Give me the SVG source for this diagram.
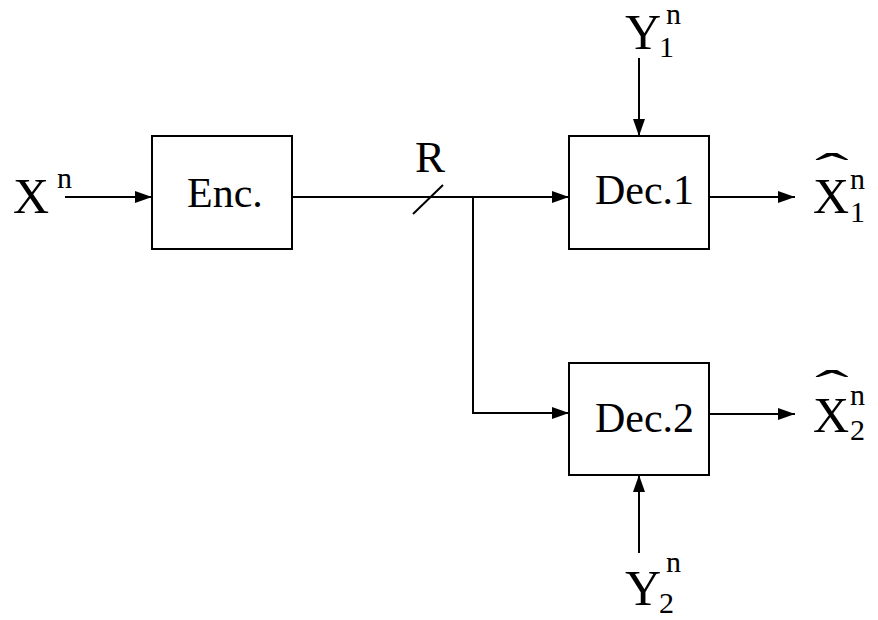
<svg xmlns="http://www.w3.org/2000/svg" width="878" height="620" viewBox="0 0 878 620">
<style>
.box{fill:#fff;stroke:#000;stroke-width:2}
.ln{fill:none;stroke:#000;stroke-width:2}
text{font-family:"Liberation Serif","Times New Roman",serif;fill:#000}
.big{font-size:50px}
.lab{font-size:42px}
.sm{font-size:30px}
.hat{font-size:46px}
</style>
<defs>
<marker id="ah" markerUnits="userSpaceOnUse" markerWidth="17" markerHeight="12" refX="17" refY="6" orient="auto">
<path d="M0,0 L17,6 L0,12 z" fill="#000"/>
</marker>
</defs>
<g id="connectors">
<line class="ln" x1="65" y1="197" x2="152" y2="197" marker-end="url(#ah)"/>
<line class="ln" x1="292" y1="197" x2="569" y2="197" marker-end="url(#ah)"/>
<polyline class="ln" points="473,197 473,413 569,413" marker-end="url(#ah)"/>
<line class="ln" x1="639" y1="58" x2="639" y2="136" marker-end="url(#ah)"/>
<line class="ln" x1="709" y1="197" x2="795" y2="197" marker-end="url(#ah)"/>
<line class="ln" x1="709" y1="414" x2="795" y2="414" marker-end="url(#ah)"/>
<line class="ln" x1="639" y1="553" x2="639" y2="475" marker-end="url(#ah)"/>
<line class="ln" x1="413" y1="214" x2="443" y2="185"/>
<text x="415" y="172" style="font-size:45px">R</text>
</g>
<g id="input-x">
<text class="big" x="13" y="213">X<tspan class="sm" x="57" y="188">n</tspan></text>
</g>
<g id="enc">
<rect class="box" x="152" y="136" width="140" height="113"/>
<text class="lab" x="187" y="207">Enc.</text>
</g>
<g id="dec1">
<rect class="box" x="569" y="136" width="140" height="113"/>
<text class="lab" x="595" y="204">Dec.1</text>
</g>
<g id="dec2">
<rect class="box" x="569" y="363" width="140" height="112"/>
<text class="lab" x="595" y="432">Dec.2</text>
</g>
<g id="y1">
<text class="big" x="625" y="49">Y<tspan class="sm" x="666" y="24">n</tspan><tspan class="sm" x="659" y="57">1</tspan></text>
</g>
<g id="y2">
<text class="big" x="625" y="605">Y<tspan class="sm" x="666" y="572">n</tspan><tspan class="sm" x="659" y="613">2</tspan></text>
</g>
<g id="xhat1">
<text class="big" x="813" y="213">X<tspan class="sm" x="850" y="189">n</tspan><tspan class="sm" x="850" y="222">1</tspan></text>
<text class="hat" transform="translate(815,186) scale(2.2,1)" x="0" y="0">ˆ</text>
</g>
<g id="xhat2">
<text class="big" x="813" y="432">X<tspan class="sm" x="850" y="405">n</tspan><tspan class="sm" x="850" y="440">2</tspan></text>
<text class="hat" transform="translate(815,403) scale(2.2,1)" x="0" y="0">ˆ</text>
</g>
</svg>
